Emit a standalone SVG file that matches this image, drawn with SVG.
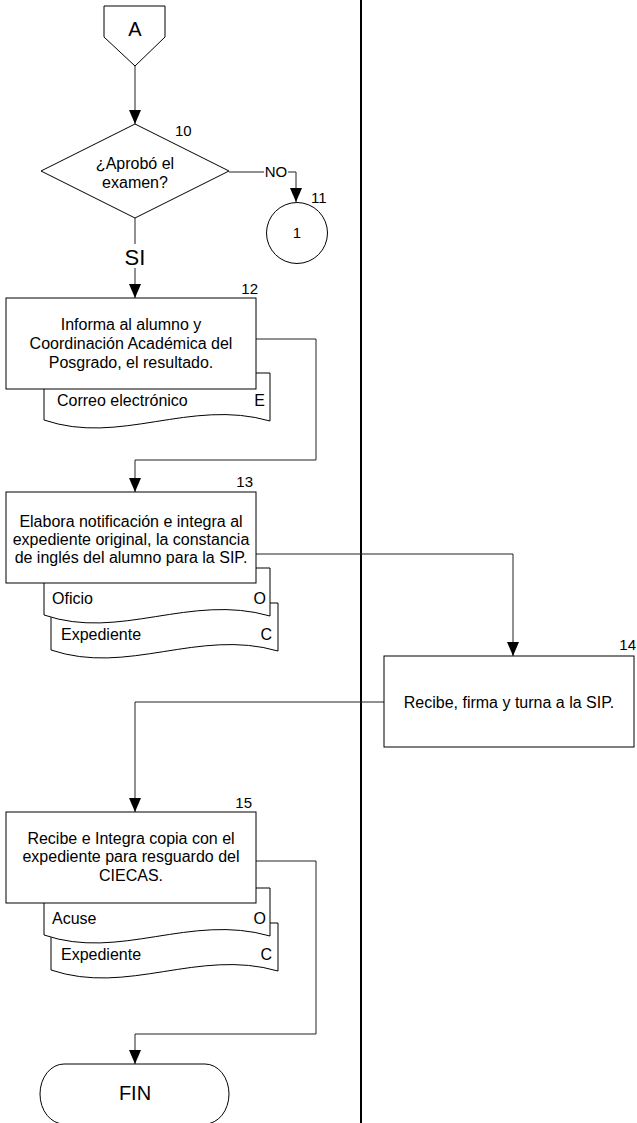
<svg xmlns="http://www.w3.org/2000/svg" width="637" height="1123" viewBox="0 0 637 1123">
<style>
text{font-family:"Liberation Sans",Arial,sans-serif;fill:#000}
.shape{fill:#fff;stroke:#000;stroke-width:1}
.conn{fill:none;stroke:#222;stroke-width:1}
.t16{font-size:16px}
.num{font-size:15px}
.mid{text-anchor:middle}
.end{text-anchor:end}
</style>
<defs>
<marker id="arr" viewBox="0 0 14 12" markerWidth="14" markerHeight="12" refX="14" refY="6" orient="auto" markerUnits="userSpaceOnUse">
<path d="M0,0 L14,6 L0,12 Z" fill="#000"/>
</marker>
</defs>
<rect width="637" height="1123" fill="#fff"/>
<line x1="361" y1="0" x2="361" y2="1123" stroke="#000" stroke-width="2"/>

<g id="connectors">
<path class="conn" d="M135,66 V124" marker-end="url(#arr)"/>
<path class="conn" d="M229,172 H264"/>
<path class="conn" d="M288,172 H296 V202" marker-end="url(#arr)"/>
<path class="conn" d="M135,218 V244"/>
<path class="conn" d="M135,268 V298" marker-end="url(#arr)"/>
<path class="conn" d="M256,339 H316 V460 H135 V492" marker-end="url(#arr)"/>
<path class="conn" d="M256,554 H513 V656" marker-end="url(#arr)"/>
<path class="conn" d="M384,702 H135 V812" marker-end="url(#arr)"/>
<path class="conn" d="M256,861 H316 V1034 H135 V1064" marker-end="url(#arr)"/>
<text x="276" y="177" class="mid" style="font-size:15px">NO</text>
<text x="135" y="265" class="mid" style="font-size:22px">SI</text>
</g>

<g id="offpage-A">
<polygon class="shape" points="104,6 165,6 165,37 135,66 104,37"/>
<text x="135" y="36" class="mid" style="font-size:20px">A</text>
</g>

<g id="decision-10">
<polygon class="shape" points="135,124 229,171 135,218 41,171"/>
<text x="135" y="169" class="mid t16">¿Aprobó el</text>
<text x="135" y="188" class="mid t16">examen?</text>
<text x="175" y="136" class="num">10</text>
</g>

<g id="connector-11">
<circle class="shape" cx="297" cy="233" r="30.5"/>
<text x="297" y="238" class="mid num">1</text>
<text x="311" y="203" class="num">11</text>
</g>

<g id="step-12">
<g transform="translate(44,373)">
<path class="shape" d="M0,0 H226 V48 C146,25 76,73 0,47 Z"/>
<text x="13" y="33" class="t16">Correo electrónico</text>
<text x="221" y="33" class="t16 end">E</text>
</g>
<rect class="shape" x="6" y="298" width="250" height="91"/>
<text x="131" y="330" class="mid t16">Informa al alumno y</text>
<text x="131" y="349" class="mid t16">Coordinación Académica del</text>
<text x="131" y="368" class="mid t16">Posgrado, el resultado.</text>
<text x="258" y="294" class="num end">12</text>
</g>

<g id="step-13">
<g transform="translate(51,603)">
<path class="shape" d="M0,0 H227 V48 C147,25 77,73 0,47 Z"/>
<text x="10" y="37" class="t16">Expediente</text>
<text x="221" y="37" class="t16 end">C</text>
</g>
<g transform="translate(44,568)">
<path class="shape" d="M0,0 H226 V48 C146,25 76,73 0,47 Z"/>
<text x="8" y="36" class="t16">Oficio</text>
<text x="222" y="36" class="t16 end">O</text>
</g>
<rect class="shape" x="6" y="492" width="250" height="91"/>
<text x="131" y="527" class="mid t16">Elabora notificación e integra al</text>
<text x="131" y="545" class="mid t16">expediente original, la constancia</text>
<text x="131" y="563" class="mid t16">de inglés del alumno para la SIP.</text>
<text x="253" y="487" class="num end">13</text>
</g>

<g id="step-14">
<rect class="shape" x="384" y="656" width="250" height="91"/>
<text x="509" y="708" class="mid t16">Recibe, firma y turna a la SIP.</text>
<text x="636" y="650" class="num end">14</text>
</g>

<g id="step-15">
<g transform="translate(51,923)">
<path class="shape" d="M0,0 H227 V48 C147,25 77,73 0,47 Z"/>
<text x="10" y="37" class="t16">Expediente</text>
<text x="221" y="37" class="t16 end">C</text>
</g>
<g transform="translate(44,888)">
<path class="shape" d="M0,0 H226 V48 C146,25 76,73 0,47 Z"/>
<text x="8" y="36" class="t16">Acuse</text>
<text x="222" y="36" class="t16 end">O</text>
</g>
<rect class="shape" x="6" y="812" width="250" height="91"/>
<text x="131" y="844" class="mid t16">Recibe e Integra copia con el</text>
<text x="131" y="862" class="mid t16">expediente para resguardo del</text>
<text x="131" y="881" class="mid t16">CIECAS.</text>
<text x="252" y="808" class="num end">15</text>
</g>

<g id="end-FIN">
<rect class="shape" x="40" y="1064" width="189" height="60" rx="24" ry="30"/>
<text x="135" y="1100" class="mid" style="font-size:20px">FIN</text>
</g>
</svg>
